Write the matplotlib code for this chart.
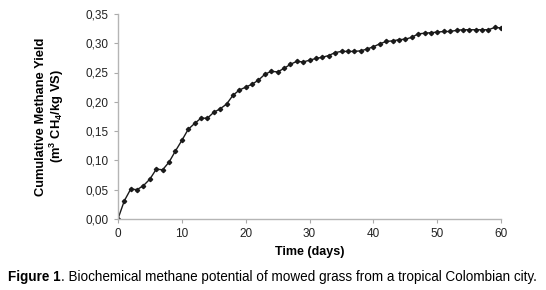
import numpy as np
import matplotlib
matplotlib.use("Agg")
import matplotlib.pyplot as plt

plt.rcParams['font.family'] = ['Liberation Sans', 'DejaVu Sans']
plt.rcParams['mathtext.fontset'] = 'custom'
plt.rcParams['mathtext.rm'] = 'Liberation Sans:bold'
plt.rcParams['mathtext.it'] = 'Liberation Sans:bold'
plt.rcParams['mathtext.bf'] = 'Liberation Sans:bold'

# data
days = list(range(0, 61))
yield_ch4 = [0.000, 0.031, 0.051, 0.050, 0.057, 0.068, 0.085, 0.084, 0.097, 0.116,
             0.134, 0.153, 0.163, 0.172, 0.172, 0.182, 0.188, 0.196, 0.211, 0.220,
             0.225, 0.230, 0.237, 0.247, 0.252, 0.251, 0.257, 0.264, 0.269, 0.268,
             0.271, 0.274, 0.276, 0.279, 0.284, 0.286, 0.286, 0.286, 0.287, 0.290,
             0.294, 0.299, 0.303, 0.304, 0.306, 0.307, 0.310, 0.316, 0.317, 0.318,
             0.319, 0.320, 0.320, 0.322, 0.323, 0.323, 0.323, 0.323, 0.323, 0.327,
             0.326]
x_ticks = [0, 10, 20, 30, 40, 50, 60]
y_ticks = [0.0, 0.05, 0.10, 0.15, 0.20, 0.25, 0.30, 0.35]
y_ticklabels = ['0,00', '0,05', '0,10', '0,15', '0,20', '0,25', '0,30', '0,35']

fig = plt.figure(figsize=(5.46, 2.90), dpi=100)
ax = fig.add_axes([0.216, 0.245, 0.702, 0.707])

ax.plot(days, yield_ch4, color='#1a1a1a', lw=1.0, marker='D', ms=2.2)

ax.set_xlim(0, 60)
ax.set_ylim(0, 0.35)
ax.set_xticks(x_ticks)
ax.set_yticks(y_ticks)
ax.set_yticklabels(y_ticklabels)
ax.tick_params(labelsize=8.5, colors='#aaaaaa', labelcolor='#222222', length=3, width=0.8)

for s in ['top', 'right']:
    ax.spines[s].set_visible(False)
for s in ['left', 'bottom']:
    ax.spines[s].set_color('#b5b5b5')
    ax.spines[s].set_linewidth(1.0)

ax.set_xlabel('Time (days)', fontsize=9, fontweight='bold', labelpad=4)
ax.set_ylabel('Cumulative Methane Yield\n(m$^{3}$ CH$_{4}$/kg VS)', fontsize=9.3,
              fontweight='bold', labelpad=14, linespacing=1.1)

# caption: bold "Figure 1" followed by regular text
cap_size = 9.75
t1 = fig.text(8 / 546, 0.032, 'Figure 1', fontsize=cap_size, fontweight='bold',
              ha='left', va='baseline')
fig.canvas.draw()
bb = t1.get_window_extent()
x2 = bb.x1 / fig.bbox.width
fig.text(x2, 0.032, '. Biochemical methane potential of mowed grass from a tropical Colombian city.',
         fontsize=cap_size, ha='left', va='baseline')

plt.savefig('out.png', dpi=100)
